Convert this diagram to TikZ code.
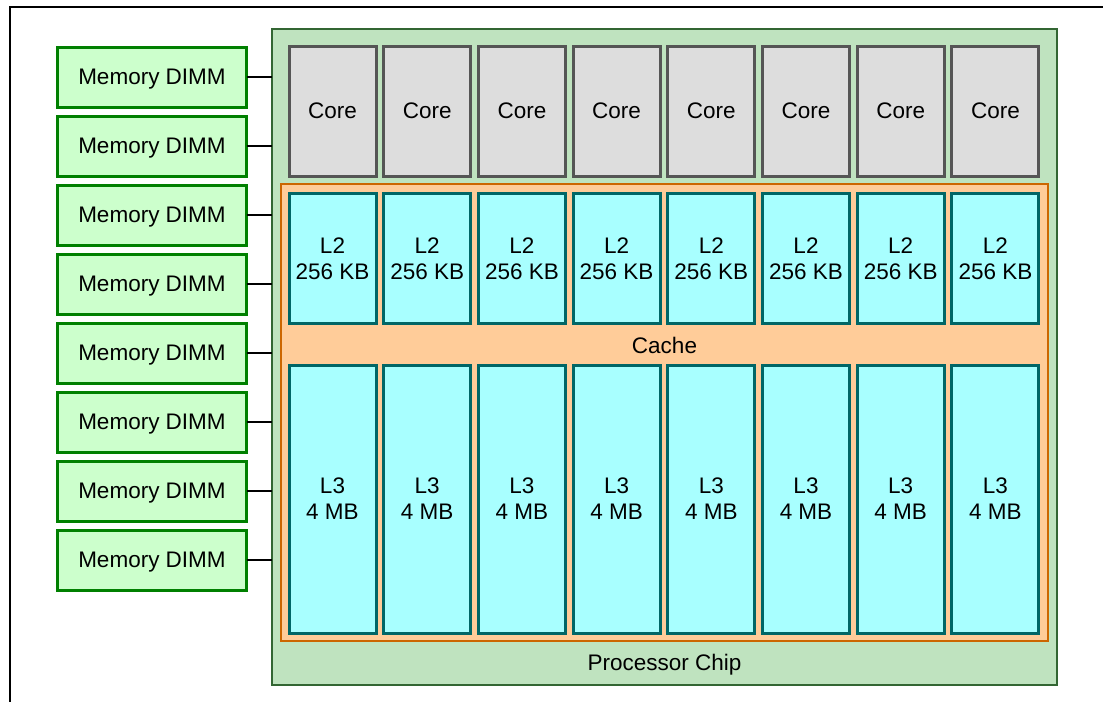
\documentclass[tikz,border=0pt]{standalone}
\usepackage{fontspec}
\setmainfont{Liberation Sans}
\definecolor{dimmfill}{HTML}{CCFFCC}
\definecolor{dimmline}{HTML}{008000}
\definecolor{chipfill}{HTML}{BFE3BF}
\definecolor{chipline}{HTML}{336633}
\definecolor{corefill}{HTML}{DDDDDD}
\definecolor{coreline}{HTML}{555555}
\definecolor{cachefill}{HTML}{FFCC99}
\definecolor{cacheline}{HTML}{CC6600}
\definecolor{lfill}{HTML}{A8FFFF}
\definecolor{lline}{HTML}{006666}
\begin{document}
\begin{tikzpicture}[x=1pt,y=-1pt,
  every node/.style={inner sep=0pt,outer sep=0pt,font=\fontsize{22.5}{26}\selectfont,align=center},
  dimm/.style={draw=dimmline,fill=dimmfill,line width=3pt,minimum width=189pt,minimum height=60pt,text depth=0pt},
  chipbox/.style={draw=chipline,fill=chipfill,line width=2.5pt,minimum width=785pt,minimum height=656pt},
  cachebox/.style={draw=cacheline,fill=cachefill,line width=2pt,minimum width=767pt,minimum height=457pt},
  corebox/.style={draw=coreline,fill=corefill,line width=3pt,minimum width=87pt,minimum height=130pt},
  ltwo/.style={draw=lline,fill=lfill,line width=3pt,minimum width=87pt,minimum height=130pt},
  lthree/.style={draw=lline,fill=lfill,line width=3pt,minimum width=87pt,minimum height=268pt},
  link/.style={draw=black,line width=2.5pt},
  framel/.style={draw=black,line width=1.5pt}]
\useasboundingbox (0,0) rectangle (1103,702);
\coordinate (ftr) at (1103,7);
\coordinate (ftl) at (10,7);
\coordinate (fbl) at (10,702);
\draw[framel] (ftr) -- (ftl) -- (fbl);
\node[chipbox] (chip) at (664.5,357) {};
\node[cachebox] (cache) at (664.5,412.5) {};
\node (cachelabel) at (664.5,345) {Cache};
\node[text depth=0pt] (chiplabel) at (664.5,662) {Processor Chip};
\foreach \i in {0,...,7}{
  \pgfmathsetmacro{\cx}{332.5+\i*94.7}
  \node[corebox] (core\i) at (\cx,111) {Core};
  \node[ltwo] (ltwo\i) at (\cx,258.5) {L2\\256 KB};
  \node[lthree] (lthree\i) at (\cx,499) {L3\\4 MB};
  \pgfmathsetmacro{\dy}{77+\i*69}
  \node[dimm] (dimm\i) at (152,\dy) {Memory DIMM};
  \draw[link] (dimm\i.east) -- (dimm\i.east -| chip.west);
}
\end{tikzpicture}
\end{document}
